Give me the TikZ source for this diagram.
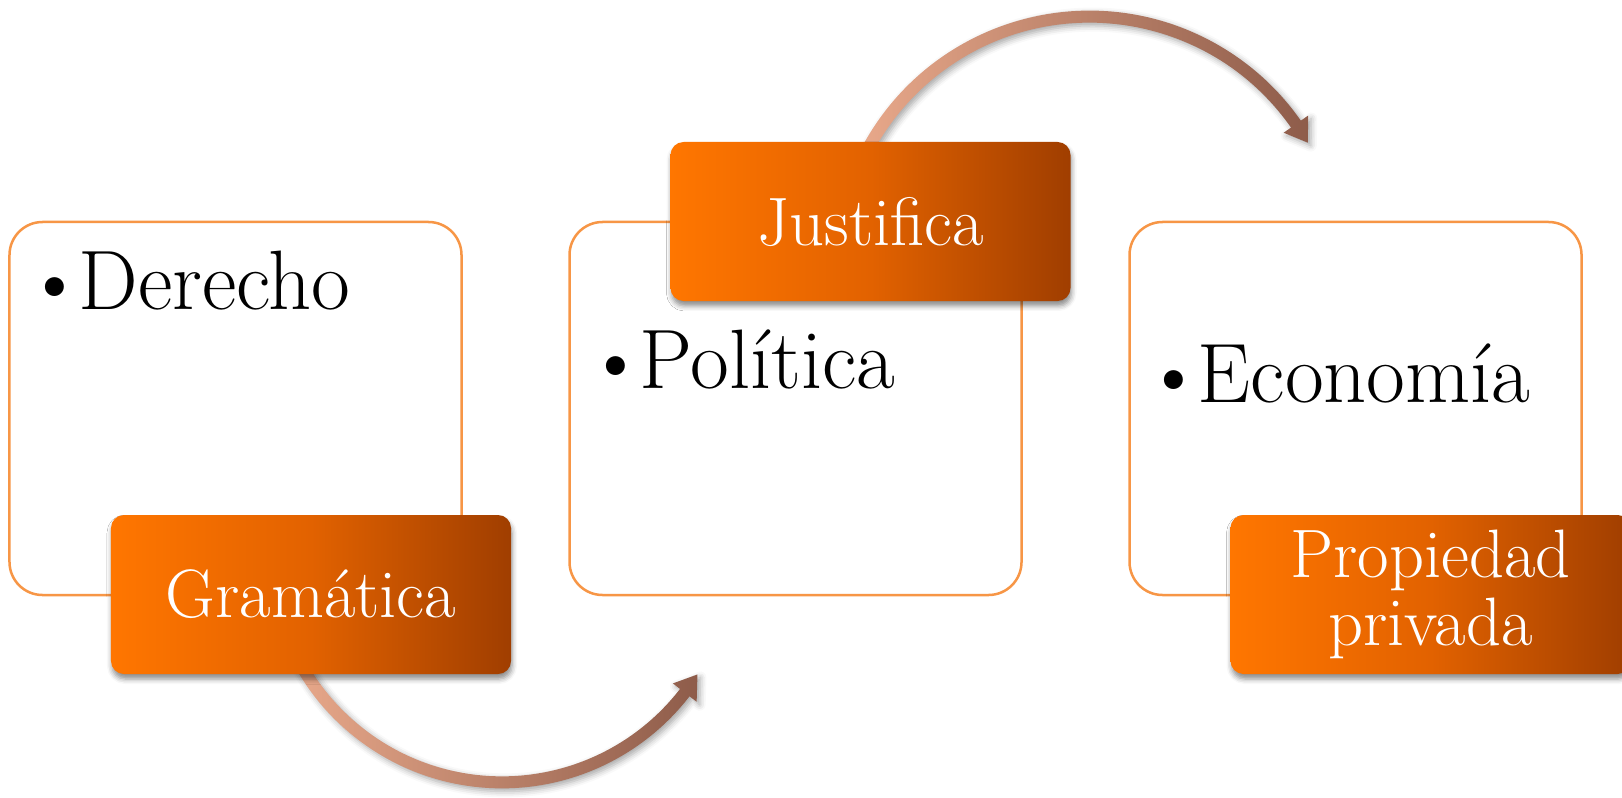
\documentclass[tikz,border=0pt]{standalone}
\usepackage{xcolor}
\usepackage{tikz}
\usetikzlibrary{calc}
\usetikzlibrary{positioning}
\usetikzlibrary{shadows.blur}

\definecolor{rim}{HTML}{F79646}
\definecolor{tagbright}{HTML}{FF7600}
\definecolor{tagmid}{HTML}{E26200}
\definecolor{tagdark}{HTML}{A03E00}
\definecolor{arrlight}{HTML}{E8A88A}
\definecolor{arrdark}{HTML}{8E5C4A}

\newcommand{\itm}[1]{\textbullet\kern-0.08em#1}

\pgfdeclarelayer{back}
\pgfsetlayers{back,main}

\tikzset{
  panel/.style={draw=rim, line width=0.5mm, rounded corners=6.6mm, fill=white,
    minimum width=90.4mm, minimum height=74.6mm, inner sep=0pt, outer sep=0pt},
  tag/.style={rounded corners=2.6mm, left color=tagbright, right color=tagdark,
    middle color=tagmid, text=white, minimum width=80mm, minimum height=31.8mm,
    inner sep=0pt, align=center, font=\fontsize{39}{39}\selectfont,
    blur shadow={shadow xshift=0.2mm, shadow yshift=-1mm, shadow blur radius=1mm, shadow opacity=45}},
  item/.style={anchor=base west, inner sep=0pt, font=\fontsize{48}{50}\selectfont},
  curvearrow/.style={left color=arrlight, right color=arrdark,
    blur shadow={shadow xshift=0.6mm, shadow yshift=-0.6mm, shadow blur radius=1.2mm, shadow opacity=35}}
}

\begin{document}
\begin{tikzpicture}[x=0.2mm, y=0.2mm] % Derecho, Politica, Economia

  \useasboundingbox (0,0) rectangle (1622,797);

  \node [panel] (derecho) at (235.5,388.5) {};
  \node [panel, right=21.6mm of derecho] (politica) {};
  \node [panel, right=21.6mm of politica] (economia) {};

  \node [item] (derecho-txt) at ($(derecho.north west)+(15,-87)$) {\itm{Derecho}};
  \node [item] (politica-txt) at ($(politica.north west)+(16,-166)$) {\itm{Política}};
  \node [item] (economia-txt) at ($(economia.north west)+(14,-180)$) {\itm{Economía}};

  \node [tag] (gramatica) at ($(derecho.center)+(75.5,-186)$) {Gramática};
  \node [tag] (justifica) at ($(politica.center)+(75,187)$) {Justifica};
  \node [tag] (propiedad) at ($(economia.center)+(75,-186)$) {Propiedad\\privada};

  \coordinate (c1) at ($(gramatica.south)+(191,123)$);
  \coordinate (c2) at ($(justifica.north)+(219,-127)$);

  \begin{pgfonlayer}{back}
    \shade [curvearrow] ($(c1)+(208:237)$) arc [start angle=208, end angle=322.3, radius=237]
      -- ($(c1)+(322.3:246)$) -- ($(c1)+(327.8:231)$) -- ($(c1)+(322.3:216)$)
      -- ($(c1)+(322.3:225)$) arc [start angle=322.3, end angle=208, radius=225] -- cycle;
    \shade [curvearrow] ($(c2)+(153:258)$) arc [start angle=153, end angle=35, radius=258]
      -- ($(c2)+(35:267)$) -- ($(c2)+(30:252)$) -- ($(c2)+(35:237)$)
      -- ($(c2)+(35:246)$) arc [start angle=35, end angle=153, radius=246] -- cycle;
  \end{pgfonlayer}

\end{tikzpicture}
\end{document}
